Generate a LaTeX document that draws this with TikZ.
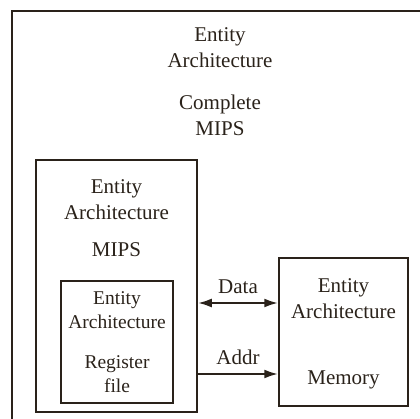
\documentclass[tikz,border=0pt]{standalone}
\usepackage{fontspec}
\setmainfont{Liberation Serif}
\usepackage{xcolor}
\usetikzlibrary{arrows.meta}
\definecolor{ink}{RGB}{42,34,26}

\begin{document}
\begin{tikzpicture}[
    x=1pt, y=-1pt,
    box/.style={rectangle, draw=ink, line width=1.5pt, inner sep=0pt},
    label/.style={align=center, inner sep=0pt, text=ink, font=\fontsize{21}{26}\selectfont},
    small/.style={label, font=\fontsize{19.5}{23.5}\selectfont},
    link/.style={draw=ink, line width=2.4pt},
    tip/.style={-{Latex[length=14pt, width=9pt]}}
]
\useasboundingbox (0,0) rectangle (420,419);
\clip (0,0) rectangle (420,419);
% frame of the complete design, runs off the page
\node[box, line width=2pt, minimum width=440pt, minimum height=440pt, anchor=north west] (outer) at (11,10) {};
\node[label] (outertitle) at (220,48) {Entity\\Architecture};
\node[label] (outername) at (220,115) {Complete\\MIPS};
% processor
\node[box, minimum width=161pt, minimum height=252pt] (mips) at (116.5,286) {};
\node[label] (mipstitle) at (116.5,200) {Entity\\Architecture};
\node[label] (mipsname) at (116.5,250) {MIPS};
% register file inside it
\node[box, minimum width=112pt, minimum height=122pt] (regfile) at (117,342) {};
\node[small] (regtitle) at (117,310) {Entity\\Architecture};
\node[small] (regname) at (117,374) {Register\\file};
% memory
\node[box, minimum width=129pt, minimum height=148pt] (memory) at (343.5,332) {};
\node[label] (memtitle) at (343.5,299) {Entity\\Architecture};
\node[label] (memname) at (343.5,380) {Memory};
% buses
\coordinate (datalvl) at (0,303);
\coordinate (addrlvl) at (0,374);
\draw[link, {Latex[length=14pt, width=9pt]}-{Latex[length=14pt, width=9pt]}] (mips.east |- datalvl) -- node[label, above=8pt] (datalabel) {Data} (memory.west |- datalvl);
\draw[link, tip] (mips.east |- addrlvl) -- node[label, above=8pt] (addrlabel) {Addr} (memory.west |- addrlvl);
\end{tikzpicture}
\end{document}
